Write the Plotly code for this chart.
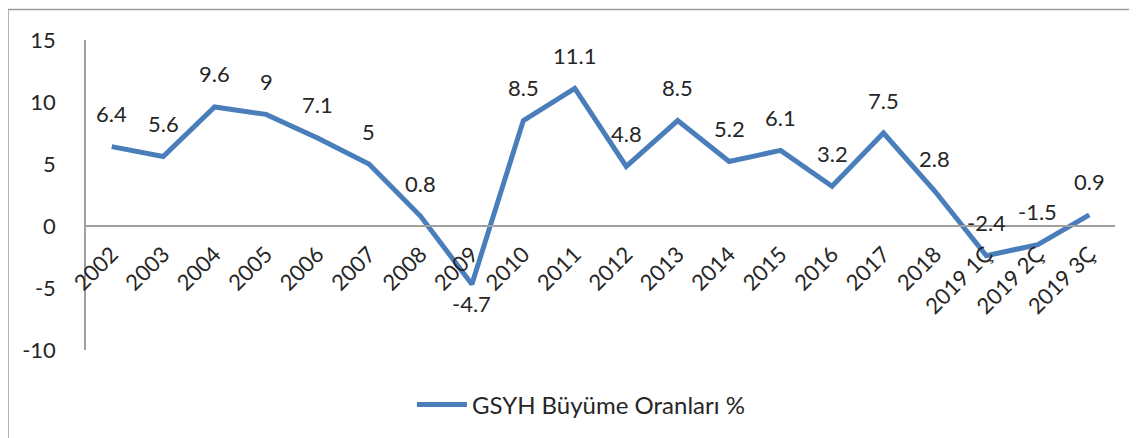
import plotly.graph_objects as go

categories = ["2002", "2003", "2004", "2005", "2006", "2007", "2008", "2009", "2010", "2011",
              "2012", "2013", "2014", "2015", "2016", "2017", "2018", "2019 1Ç", "2019 2Ç", "2019 3Ç"]
growth = [6.4, 5.6, 9.6, 9, 7.1, 5, 0.8, -4.7, 8.5, 11.1,
          4.8, 8.5, 5.2, 6.1, 3.2, 7.5, 2.8, -2.4, -1.5, 0.9]
label_below = ["2009"]
series_name = "GSYH Büyüme Oranları %"
y_ticks = [-10, -5, 0, 5, 10, 15]
y_ticktext = ["-10", "-5", "0", "5", "10", "15"]

FONT = "Lato"
FS = 22
TXT = "#262626"
BLUE = "#4A7EBB"
GRAY = "#A0A0A0"

# page body has an 8px default margin; margins below compensate for it
ML, MT, MR, MB = 78, 32, 30, 96
PW = 1137 - ML - MR
PH = 438 - MT - MB

fig = go.Figure()
fig.add_trace(go.Scatter(
    x=categories, y=growth, mode="lines", name=series_name,
    line=dict(color=BLUE, width=5), showlegend=True,
))

annotations = []
for i, (c, v) in enumerate(zip(categories, growth)):
    below = c in label_below
    annotations.append(dict(
        x=i, y=v, xref="x", yref="y", text=f"{v:g}", showarrow=False,
        yanchor="middle", xanchor="center", yshift=-19 if below else 33,
        font=dict(family=FONT, size=FS, color=TXT),
    ))

fig.update_layout(
    width=1137, height=438,
    margin=dict(l=ML, r=MR, t=MT, b=MB, autoexpand=False),
    paper_bgcolor="white", plot_bgcolor="white",
    font=dict(family=FONT, size=FS, color=TXT),
    annotations=annotations,
    showlegend=True,
    legend=dict(orientation="h", x=0.481, xanchor="center", y=-0.177, yanchor="middle",
                font=dict(family=FONT, size=24, color=TXT), itemwidth=50),
    xaxis=dict(
        type="category", anchor="free", position=0.4, automargin=False,
        range=[-0.5, len(categories) - 0.5],
        showline=True, linecolor=GRAY, linewidth=1.5,
        showgrid=False, zeroline=False, ticks="",
        tickangle=-45, tickfont=dict(family=FONT, size=FS, color=TXT),
        ticklabelstandoff=6,
    ),
    yaxis=dict(
        range=[-10, 15], tickvals=y_ticks, ticktext=y_ticktext, automargin=False,
        showline=True, linecolor=GRAY, linewidth=1.5,
        showgrid=False, zeroline=False, ticks="",
        tickfont=dict(family=FONT, size=FS, color=TXT),
        ticklabelstandoff=24,
    ),
    shapes=[dict(
        type="rect", xref="paper", yref="paper",
        x0=(0 - ML) / PW, x1=1.2, y0=-0.5, y1=1 + (MT - 1.5) / PH,
        line=dict(color="#9A9A9A", width=1.5), fillcolor="rgba(0,0,0,0)", layer="below",
    )],
)

fig.write_html("out.html")
